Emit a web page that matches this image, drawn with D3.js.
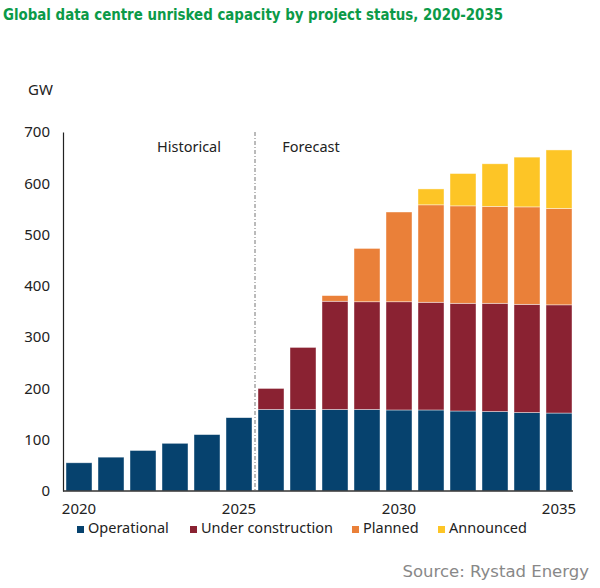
<!DOCTYPE html>
<html>
<head>
<meta charset="utf-8">
<script src="https://cdn.jsdelivr.net/npm/d3@7"></script>
<style>
  body { margin: 0; background: #fff; }
  svg { display: block; font-family: "Noto Sans", "Open Sans", sans-serif; }
</style>
</head>
<body>
<svg id="chart" width="600" height="588"></svg>
<script>
// data
const years = d3.range(2020, 2036);
const operational = [55, 66, 79, 93, 110, 143, 159, 159, 159, 159, 158, 158, 156, 155, 153, 152];
const underConstruction = [0, 0, 0, 0, 0, 0, 41, 121, 211, 210, 211, 210, 210, 211, 211, 211];
const planned = [0, 0, 0, 0, 0, 0, 0, 0, 11, 104, 175, 190, 190, 189, 190, 188];
const announced = [0, 0, 0, 0, 0, 0, 0, 0, 0, 0, 0, 31, 63, 83, 97, 114];
const seriesNames = ['Operational', 'Under construction', 'Planned', 'Announced'];
const colors = ['#06426e', '#8a2232', '#ea8039', '#fdc526'];
const yTicks = [0, 100, 200, 300, 400, 500, 600, 700];
const xLabels = [2020, 2025, 2030, 2035];

const svg = d3.select('#chart');

// title
svg.append('text')
  .attr('x', 3).attr('y', 20)
  .style('font-family', '"DejaVu Sans", sans-serif')
  .style('font-weight', 'bold')
  .style('font-size', '15px')
  .attr('textLength', 500)
  .attr('lengthAdjust', 'spacingAndGlyphs')
  .attr('fill', '#0b9a48')
  .text('Global data centre unrisked capacity by project status, 2020-2035');

let x = d3.scaleBand().domain(years).range([63, 575]).paddingInner(0.1875).paddingOuter(0.09375);
let y = d3.scaleLinear().domain([0, 700]).range([491, 132]);

// stack rows
let rows = years.map((yr, i) => ({
  year: yr,
  'Operational': operational[i],
  'Under construction': underConstruction[i],
  'Planned': planned[i],
  'Announced': announced[i]
}));
let stacked = d3.stack().keys(seriesNames)(rows);

let barWrap = svg.append('g').classed('bars', true);
let layers = barWrap.selectAll('g').data(stacked).enter().append('g')
  .attr('fill', (d, i) => colors[i]);

layers.selectAll('rect').data(d => d.filter(s => s[1] - s[0] > 0)).enter().append('rect')
  .attr('x', d => x(d.data.year))
  .attr('width', x.bandwidth())
  .attr('y', d => y(d[1]))
  .attr('height', d => y(d[0]) - y(d[1]))
  .attr('stroke', '#ffffff')
  .attr('stroke-opacity', 0.6)
  .attr('stroke-width', 0.7);

// historical / forecast divider
let divX = (x(2025) + x.bandwidth() + x(2026)) / 2;
svg.append('line')
  .attr('x1', divX).attr('x2', divX)
  .attr('y1', y(700)).attr('y2', y(0))
  .attr('stroke', '#777')
  .attr('stroke-width', 1)
  .attr('stroke-dasharray', '4,2,1,2');

svg.append('text').attr('x', 189).attr('y', 152).attr('text-anchor', 'middle')
  .style('font-size', '14.5px').attr('fill', '#222').text('Historical');
svg.append('text').attr('x', 311).attr('y', 152).attr('text-anchor', 'middle')
  .style('font-size', '14.5px').attr('fill', '#222').text('Forecast');

// y axis
let yAxis = svg.append('g').attr('transform', 'translate(63,0)')
  .call(d3.axisLeft(y).tickValues(yTicks).tickSize(0).tickPadding(13));
yAxis.select('.domain').attr('stroke', '#222').attr('stroke-width', 1.2);
yAxis.selectAll('text').style('font-size', '15px').attr('fill', '#222')
  .style('font-family', '"Noto Sans", sans-serif');

svg.append('text').attr('x', 28).attr('y', 95)
  .style('font-size', '15px').attr('fill', '#222').text('GW');

// x axis
let xAxis = svg.append('g').attr('transform', 'translate(0,491)')
  .call(d3.axisBottom(x).tickValues(xLabels).tickSize(0).tickPadding(12).tickSizeOuter(0));
xAxis.select('.domain').attr('stroke', '#333').attr('stroke-width', 1.5)
  .attr('d', 'M63,0H573');
xAxis.selectAll('text').style('font-size', '15px').attr('fill', '#222')
  .style('font-family', '"Noto Sans", sans-serif');

// legend
let legendX = [77, 190, 352, 438];
let legend = svg.append('g').classed('legend', true);
let items = legend.selectAll('g').data(seriesNames).enter().append('g')
  .attr('transform', (d, i) => 'translate(' + legendX[i] + ', 522)');
items.append('rect').attr('width', 7).attr('height', 7).attr('y', 4)
  .attr('fill', (d, i) => colors[i]);
items.append('text').attr('x', 11).attr('y', 11)
  .style('font-size', '14.5px').attr('fill', '#222').text(d => d);

// source
svg.append('text').attr('x', 589).attr('y', 577).attr('text-anchor', 'end')
  .style('font-family', '"DejaVu Sans", sans-serif')
  .style('font-size', '16.5px').attr('fill', '#888')
  .text('Source: Rystad Energy');
</script>
</body>
</html>
